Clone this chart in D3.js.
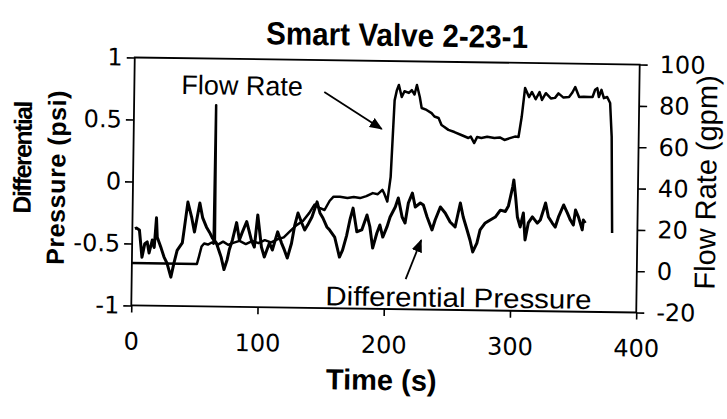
<!DOCTYPE html>
<html lang="en">
<head>
<meta charset="UTF-8">
<title>Smart Valve 2-23-1</title>
<script src="https://d3js.org/d3.v7.min.js"></script>
<style>
  body { margin: 0; background: #fff; }
  svg { display: block; font-family: "Liberation Sans", Arial, sans-serif; }
  .axis path { display: none; }
  .axis line { stroke: #000; stroke-width: 1.6px; }
  .axis text { fill: #000; font-size: 24px; font-family: "DejaVu Sans", sans-serif; }
  .trace { fill: none; stroke: #000; stroke-linejoin: round; }
</style>
</head>
<body>
<script>
const width = 727, height = 419;
const plot = { left: 133, right: 638, top: 61, bottom: 309 };

// axes
const timeTicks = [0, 100, 200, 300, 400];
const dpTicks = [1, 0.5, 0, -0.5, -1];
const flowTicks = [100, 80, 60, 40, 20, 0, -20];

// flow rate (gpm) vs time (s)
const flowTime = [0, 51.5, 53, 55, 57, 60, 63, 64.5, 65, 65.5, 68, 72, 76, 80, 85, 90, 95, 100, 105, 110,
  115, 120, 125, 130, 135, 140, 144, 148, 152, 156, 159, 164, 170, 175, 180, 185, 190, 194, 197.6, 199,
  201.6, 204, 206.3, 208, 209.5, 211.9, 214, 217.5, 219.8, 222, 223.8, 226.2, 227.8, 231.7, 235.7, 238,
  241.3, 243.7, 246, 249.2, 254, 259.5, 265.1, 267, 269.8, 272, 275.4, 280, 285.7, 290, 293.7, 298, 302,
  304.8, 307.1, 309.5, 312.7, 315, 318, 321, 323, 326, 330, 333.3, 336, 340, 344.4, 347, 349.2, 352.4,
  356, 360.3, 363, 365, 366.7, 368, 370, 372, 374.6, 377, 378.6, 380];
const flowRate = [0.5, 0.5, 4, 9, 10.5, 10, 11, 10.5, 77.5, 11, 10, 11.5, 10, 11, 12, 10.5, 12, 11, 12.5, 11.5,
  13, 14, 17, 20, 22, 26, 30, 28.5, 27.5, 32, 34, 34, 33.5, 34, 33.5, 34.5, 36, 35.5, 37.6, 36,
  32, 44, 81, 86, 88.5, 82.7, 85.5, 84.7, 86.1, 84, 88.6, 82.8, 77.5, 76.6, 75.1, 73.5,
  72.8, 69.4, 68.5, 67.1, 66.1, 64.7, 63.3, 64, 60.9, 63.8, 63.4, 64, 63.5, 63.8, 62.6, 63.5, 64.3,
  64.1, 73.8, 87.9, 83.5, 86, 82.5, 86, 82.2, 85.5, 83, 83.3, 85.5, 83.5, 83.8, 86, 88.7, 83.9,
  84, 83.9, 84, 87.5, 88.3, 84, 87.5, 83.5, 84.1, 81.2, 64.8, 18.3];

// differential pressure (psi) vs time (s)
const dpTime = [2, 3.2, 5.6, 7.9, 10, 11.9, 13.5, 15.9, 17.5, 19, 19.8, 23, 25.4, 27.8, 31, 33.3, 35.7, 39.7,
  41.3, 43.7, 46.8, 49.2, 53.2, 55.6, 58.7, 61.1, 63.5, 66.7, 70.6, 73, 75.4, 77, 79.4, 82.5, 84.9, 87,
  90.5, 94.4, 96.8, 99.2, 102.4, 104.8, 108.7, 111.1, 115.1, 118.3, 120.6, 123, 126.2, 128.6, 131, 134.1,
  136.5, 138.9, 142.1, 146, 148.4, 150.8, 154, 156.3, 160.3, 164.3, 166.7, 169.8, 172.2, 174.6, 177.8,
  181.7, 185.7, 188.1, 190.5, 193.7, 196, 198.4, 201.6, 204, 208, 210.3, 213.5, 215.9, 218.3, 221.4,
  223.8, 227.8, 230.2, 233.3, 237.3, 239.7, 243.7, 247.6, 251.6, 255.6, 259.5, 261.9, 265.1, 267.5,
  269.8, 273, 275.4, 279.4, 283.3, 287.3, 291.3, 295.2, 297.6, 300.8, 301.6, 303.2, 304.8, 307.1, 309.5,
  311.1, 313.5, 316.7, 320.6, 323, 325.4, 327, 329.4, 332.5, 334.9, 337.3, 341.3, 344.4, 346.8, 349.2,
  350.8, 353.2, 356.3, 357.1, 358.7];
const dpValue = [-0.38, -0.375, -0.39, -0.61, -0.5, -0.486, -0.575, -0.47, -0.53, -0.29, -0.446, -0.534, -0.606,
  -0.655, -0.767, -0.654, -0.55, -0.49, -0.36, -0.16, -0.28, -0.4, -0.166, -0.286, -0.36, -0.4, -0.447,
  -0.487, -0.6, -0.7, -0.62, -0.54, -0.46, -0.32, -0.46, -0.4, -0.31, -0.46, -0.515, -0.256, -0.514,
  -0.594, -0.48, -0.537, -0.39, -0.48, -0.535, -0.6, -0.48, -0.333, -0.236, -0.316, -0.372, -0.33, -0.266,
  -0.144, -0.233, -0.273, -0.345, -0.37, -0.425, -0.586, -0.53, -0.41, -0.286, -0.19, -0.38, -0.365,
  -0.244, -0.34, -0.51, -0.388, -0.323, -0.42, -0.338, -0.257, -0.176, -0.103, -0.256, -0.304, -0.143,
  -0.062, -0.174, -0.141, -0.157, -0.253, -0.357, -0.277, -0.171, -0.219, -0.291, -0.331, -0.137, -0.249,
  -0.354, -0.434, -0.53, -0.458, -0.352, -0.295, -0.27, -0.246, -0.19, -0.2, -0.155, 0.0, 0.055, -0.082,
  -0.243, -0.323, -0.21, -0.427, -0.29, -0.241, -0.29, -0.265, -0.184, -0.127, -0.24, -0.288, -0.32,
  -0.24, -0.141, -0.206, -0.262, -0.302, -0.18, -0.237, -0.34, -0.26, -0.284];

// annotation arrows, in data units
const flowArrowTime = [150.5, 196.4], flowArrowRate = [84.6, 67.1];
const dpArrowTime = [217, 228.9], dpArrowValue = [-0.756, -0.44];

const x = d3.scaleLinear().domain([0, 400]).range([plot.left, plot.right]);
const yDp = d3.scaleLinear().domain([-1, 1]).range([plot.bottom, plot.top]);
const yFlow = d3.scaleLinear().domain([-20, 100]).range([plot.bottom, plot.top]);

// plain hyphen for negatives, like the original
const fmt = d => String(d);

const svg = d3.select("body").append("svg")
  .attr("width", width)
  .attr("height", height);

svg.append("defs").append("marker")
  .attr("id", "head")
  .attr("markerUnits", "userSpaceOnUse")
  .attr("viewBox", "0 0 12 10")
  .attr("refX", 11).attr("refY", 5)
  .attr("markerWidth", 13).attr("markerHeight", 11)
  .attr("orient", "auto")
  .append("path").attr("d", "M0,0 L12,5 L0,10 Z").attr("fill", "#000");

// the scan is tilted slightly clockwise
const g = svg.append("g").attr("transform", "rotate(0.8, 385, 185)");

g.append("text")
  .attr("x", 395).attr("y", 46)
  .attr("text-anchor", "middle")
  .attr("font-size", 32).attr("font-weight", "bold")
  .attr("textLength", 262).attr("lengthAdjust", "spacingAndGlyphs")
  .text("Smart Valve 2-23-1");

// frame
g.append("rect")
  .attr("x", plot.left).attr("y", plot.top)
  .attr("width", plot.right - plot.left).attr("height", plot.bottom - plot.top)
  .attr("fill", "none").attr("stroke", "#000").attr("stroke-width", 1.8);

g.append("g").attr("class", "axis")
  .attr("transform", `translate(${plot.left},0)`)
  .call(d3.axisLeft(yDp).tickValues(dpTicks).tickSize(8).tickPadding(4).tickFormat(fmt));

g.append("g").attr("class", "axis")
  .attr("transform", `translate(0,${plot.bottom})`)
  .call(d3.axisBottom(x).tickValues(timeTicks).tickSize(7).tickPadding(20).tickFormat(fmt));

g.append("g").attr("class", "axis")
  .attr("transform", `translate(${plot.right},0)`)
  .call(d3.axisRight(yFlow).tickValues(flowTicks).tickSize(8).tickPadding(12).tickFormat(fmt));

// axis titles
g.append("text")
  .attr("transform", "translate(31,163) rotate(-90)")
  .attr("text-anchor", "middle")
  .attr("font-size", 25).attr("font-weight", "bold")
  .attr("letter-spacing", -1.6)
  .text("Differential");
g.append("text")
  .attr("transform", "translate(65,182) rotate(-90)")
  .attr("text-anchor", "middle")
  .attr("font-size", 25).attr("font-weight", "bold")
  .attr("letter-spacing", 0.6)
  .text("Pressure (psi)");
g.append("text")
  .attr("transform", "translate(716,178) rotate(-90)")
  .attr("text-anchor", "middle")
  .attr("font-size", 29)
  .text("Flow Rate (gpm)");
g.append("text")
  .attr("x", 384).attr("y", 390)
  .attr("text-anchor", "middle")
  .attr("font-size", 29).attr("font-weight", "bold")
  .text("Time (s)");

// traces
const flowLine = d3.line().x(i => x(flowTime[i])).y(i => yFlow(flowRate[i]));
const dpLine = d3.line().x(i => x(dpTime[i])).y(i => yDp(dpValue[i]));

g.append("path").attr("class", "trace")
  .attr("stroke-width", 2.5)
  .attr("d", flowLine(d3.range(flowTime.length)));
g.append("path").attr("class", "trace")
  .attr("stroke-width", 3)
  .attr("d", dpLine(d3.range(dpTime.length)));

// annotations
g.append("text")
  .attr("x", x(37.2)).attr("y", yFlow(82.6))
  .attr("font-size", 27)
  .text("Flow Rate");
g.append("line")
  .attr("x1", x(flowArrowTime[0])).attr("y1", yFlow(flowArrowRate[0]))
  .attr("x2", x(flowArrowTime[1])).attr("y2", yFlow(flowArrowRate[1]))
  .attr("stroke", "#000").attr("stroke-width", 1.8)
  .attr("marker-end", "url(#head)");

g.append("text")
  .attr("x", x(153.7)).attr("y", yDp(-0.976))
  .attr("font-size", 27)
  .attr("textLength", 266).attr("lengthAdjust", "spacingAndGlyphs")
  .text("Differential Pressure");
g.append("line")
  .attr("x1", x(dpArrowTime[0])).attr("y1", yDp(dpArrowValue[0]))
  .attr("x2", x(dpArrowTime[1])).attr("y2", yDp(dpArrowValue[1]))
  .attr("stroke", "#000").attr("stroke-width", 1.8)
  .attr("marker-end", "url(#head)");
</script>
</body>
</html>
